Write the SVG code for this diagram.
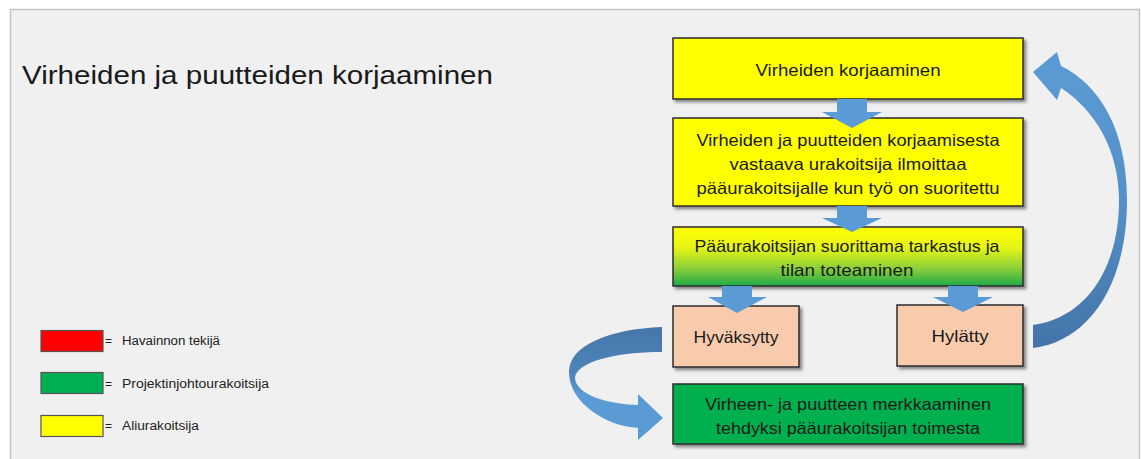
<svg xmlns="http://www.w3.org/2000/svg" width="1141" height="459" viewBox="0 0 1141 459">
<defs>
<style>
.box{stroke:#2b2b2b;stroke-width:1.5;filter:url(#sh)}
.t{font-family:"Liberation Sans",Arial,sans-serif;font-size:16.5px;fill:#1a1a1a;text-anchor:middle}
.lg{font-family:"Liberation Sans",Arial,sans-serif;font-size:12px;fill:#222}
.lgb{stroke:#555;stroke-width:1.2}
.arr{fill:#5b9bd5}
</style>
<filter id="sh" x="-10%" y="-10%" width="120%" height="130%">
<feDropShadow dx="2.5" dy="2.5" stdDeviation="1.5" flood-color="#000" flood-opacity="0.45"/>
</filter>
<linearGradient id="g3" x1="0" y1="0" x2="0" y2="1">
<stop offset="0" stop-color="#ffff00"/>
<stop offset="0.35" stop-color="#e6f514"/>
<stop offset="0.7" stop-color="#8ccf3a"/>
<stop offset="1" stop-color="#1faa48"/>
</linearGradient>
<linearGradient id="gr" x1="0" y1="0" x2="0" y2="1">
<stop offset="0" stop-color="#5b9bd5"/>
<stop offset="0.5" stop-color="#5590c8"/>
<stop offset="1" stop-color="#4474a8"/>
</linearGradient>
<linearGradient id="gl" x1="0" y1="0" x2="0" y2="1">
<stop offset="0" stop-color="#4676aa"/>
<stop offset="0.45" stop-color="#4f86bd"/>
<stop offset="0.6" stop-color="#5b9bd5"/>
<stop offset="1" stop-color="#5b9bd5"/>
</linearGradient>
</defs>
<rect x="0" y="0" width="1141" height="459" fill="#ffffff"/>
<rect x="10.5" y="9.5" width="1129" height="452" fill="#f0f0f0" stroke="#c4c4c4" stroke-width="1.5"/>

<text x="22" y="84" font-family="'Liberation Sans',Arial,sans-serif" font-size="25" fill="#1a1a1a" textLength="471" lengthAdjust="spacingAndGlyphs">Virheiden ja puutteiden korjaaminen</text>

<g id="legend">
<rect class="lgb" x="41" y="330.5" width="62" height="21" fill="#ff0000"/>
<text class="lg" x="105" y="345">=</text><text class="lg" x="122" y="345" textLength="98" lengthAdjust="spacingAndGlyphs">Havainnon tekijä</text>
<rect class="lgb" x="41" y="372.5" width="62" height="21" fill="#00b050"/>
<text class="lg" x="105" y="388">=</text><text class="lg" x="122" y="388" textLength="147" lengthAdjust="spacingAndGlyphs">Projektinjohtourakoitsija</text>
<rect class="lgb" x="41" y="415.5" width="62" height="21" fill="#ffff00"/>
<text class="lg" x="105" y="430">=</text><text class="lg" x="122" y="430" textLength="77" lengthAdjust="spacingAndGlyphs">Aliurakoitsija</text>
</g>

<g id="n1">
<rect class="box" x="673" y="38" width="350" height="61" fill="#ffff00"/>
<text class="t" x="848" y="76" textLength="185" lengthAdjust="spacingAndGlyphs">Virheiden korjaaminen</text>
</g>
<g id="n2">
<rect class="box" x="673" y="118" width="350" height="88" fill="#ffff00"/>
<text class="t" x="848" y="146" textLength="303" lengthAdjust="spacingAndGlyphs">Virheiden ja puutteiden korjaamisesta</text>
<text class="t" x="848" y="170" textLength="237" lengthAdjust="spacingAndGlyphs">vastaava urakoitsija ilmoittaa</text>
<text class="t" x="848" y="194" textLength="303" lengthAdjust="spacingAndGlyphs">pääurakoitsijalle kun työ on suoritettu</text>
</g>
<g id="n3">
<rect class="box" x="673" y="227" width="350" height="59" fill="url(#g3)"/>
<text class="t" x="847" y="252" textLength="305" lengthAdjust="spacingAndGlyphs">Pääurakoitsijan suorittama tarkastus ja</text>
<text class="t" x="847" y="276" textLength="133" lengthAdjust="spacingAndGlyphs">tilan toteaminen</text>
</g>
<g id="n4">
<rect class="box" x="673" y="306" width="126" height="61" fill="#f8cbad"/>
<text class="t" x="736" y="343" textLength="85" lengthAdjust="spacingAndGlyphs">Hyväksytty</text>
</g>
<g id="n5">
<rect class="box" x="897" y="305" width="126" height="61" fill="#f8cbad"/>
<text class="t" x="960" y="342" textLength="57" lengthAdjust="spacingAndGlyphs">Hylätty</text>
</g>
<g id="n6">
<rect class="box" x="673" y="384" width="350" height="60" fill="#00b050"/>
<text class="t" x="848" y="410" textLength="286" lengthAdjust="spacingAndGlyphs">Virheen- ja puutteen merkkaaminen</text>
<text class="t" x="848" y="434" textLength="264" lengthAdjust="spacingAndGlyphs">tehdyksi pääurakoitsijan toimesta</text>
</g>

<g id="connectors">
<path class="arr" d="M837 99 H867 V112 H882 L852 128 L822 112 H837 Z"/>
<path class="arr" d="M837 206 H867 V218 H882 L852 232 L822 218 H837 Z"/>
<path class="arr" d="M722 286 H752 V297 H767 L737 313 L708 297 H722 Z"/>
<path class="arr" d="M948 286 H978 V297 H993 L963 312 L933 297 H948 Z"/>
<path fill="url(#gr)" d="M1033 348 C1085 342 1127 290 1127 200 C1127 130 1100 85 1061 66 L1057 52 L1033 72 L1057 100 L1061 88 C1095 110 1119 150 1119 200 C1119 270 1085 318 1033 325 Z"/>
<path fill="url(#gl)" d="M662 327 C610 329 569 345 569 372 C569 402 605 426 638 428 L638 440 L663 418 L638 394 L638 405 C605 404 576 394 575 378 C576 362 615 352 662 352 Z"/>
</g>
</svg>
